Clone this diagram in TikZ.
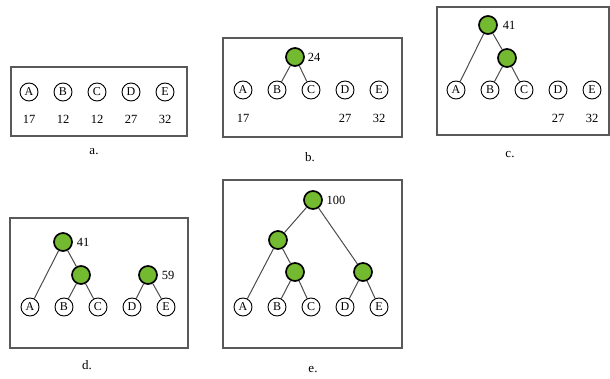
\documentclass[tikz,border=0pt]{standalone}
\usepackage{fontspec}
\setmainfont{Liberation Serif}
\usepackage{tikz}
\usetikzlibrary{positioning}
\usepackage{xcolor}
\definecolor{mergegreen}{RGB}{116,186,48}

\begin{document}
\begin{tikzpicture}[x=1pt, y=-1pt, node distance=34pt]
    % Define styles
    \tikzstyle{panel} = [draw=black!65, line width=1.5pt]
    \tikzstyle{leaf} = [circle, draw, line width=0.9pt, inner sep=0pt, minimum size=18pt, font=\fontsize{12}{13}\selectfont]
    \tikzstyle{merge} = [circle, draw, line width=1.7pt, fill=mergegreen, inner sep=0pt, minimum size=18pt]
    \tikzstyle{weight} = [inner sep=0pt, font=\fontsize{12.5}{13}\selectfont]
    \tikzstyle{line} = [draw=black!70, line width=1pt]
    \tikzstyle{caption} = [font=\fontsize{13}{14}\selectfont]

    \useasboundingbox (0,0) rectangle (610,379);

    % a. five single trees
    \draw [panel] (11,67) rectangle (187,136);
    \node [leaf] (aA) at (29,92) {A};
    \node [leaf, right of=aA] (aB) {B};
    \node [leaf, right of=aB] (aC) {C};
    \node [leaf, right of=aC] (aD) {D};
    \node [leaf, right of=aD] (aE) {E};
    \node [weight, below of=aA, node distance=27pt] (aA-w) {17};
    \node [weight, below of=aB, node distance=27pt] (aB-w) {12};
    \node [weight, below of=aC, node distance=27pt] (aC-w) {12};
    \node [weight, below of=aD, node distance=27pt] (aD-w) {27};
    \node [weight, below of=aE, node distance=27pt] (aE-w) {32};
    \node [caption] (a-cap) at (94,152) {a.};

    % b. B and C merged
    \draw [panel] (223,38) rectangle (402,137);
    \node [leaf] (bA) at (243,90) {A};
    \node [leaf, right of=bA] (bB) {B};
    \node [leaf, right of=bB] (bC) {C};
    \node [leaf, right of=bC] (bD) {D};
    \node [leaf, right of=bD] (bE) {E};
    \node [merge] (bBC) at (295,57) {};
    \node [weight, right of=bBC, node distance=19pt] (bBC-w) {24};
    \node [weight, below of=bA, node distance=28pt] (bA-w) {17};
    \node [weight, below of=bD, node distance=28pt] (bD-w) {27};
    \node [weight, below of=bE, node distance=28pt] (bE-w) {32};
    \path [line] (bBC) -- (bB);
    \path [line] (bBC) -- (bC);
    \node [caption] (b-cap) at (310,157) {b.};

    % c. A joins BC
    \draw [panel] (437,7) rectangle (609,135);
    \node [leaf] (cA) at (456,90) {A};
    \node [leaf, right of=cA] (cB) {B};
    \node [leaf, right of=cB] (cC) {C};
    \node [leaf, right of=cC] (cD) {D};
    \node [leaf, right of=cD] (cE) {E};
    \node [merge] (cBC) at (507,58) {};
    \node [merge] (cABC) at (488,25) {};
    \node [weight, right of=cABC, node distance=21pt] (cABC-w) {41};
    \node [weight, below of=cD, node distance=28pt] (cD-w) {27};
    \node [weight, below of=cE, node distance=28pt] (cE-w) {32};
    \path [line] (cABC) -- (cA);
    \path [line] (cABC) -- (cBC);
    \path [line] (cBC) -- (cB);
    \path [line] (cBC) -- (cC);
    \node [caption] (c-cap) at (510,155) {c.};

    % d. D and E merged
    \draw [panel] (10,218) rectangle (188,348);
    \node [leaf] (dA) at (30,307) {A};
    \node [leaf, right of=dA] (dB) {B};
    \node [leaf, right of=dB] (dC) {C};
    \node [leaf, right of=dC] (dD) {D};
    \node [leaf, right of=dD] (dE) {E};
    \node [merge] (dBC) at (81,275) {};
    \node [merge] (dABC) at (63,242) {};
    \node [merge] (dDE) at (148,275) {};
    \node [weight, right of=dABC, node distance=20pt] (dABC-w) {41};
    \node [weight, right of=dDE, node distance=20pt] (dDE-w) {59};
    \path [line] (dABC) -- (dA);
    \path [line] (dABC) -- (dBC);
    \path [line] (dBC) -- (dB);
    \path [line] (dBC) -- (dC);
    \path [line] (dDE) -- (dD);
    \path [line] (dDE) -- (dE);
    \node [caption] (d-cap) at (87,365) {d.};

    % e. the finished tree
    \draw [panel] (223,180) rectangle (402,348);
    \node [leaf] (eA) at (243,307) {A};
    \node [leaf, right of=eA] (eB) {B};
    \node [leaf, right of=eB] (eC) {C};
    \node [leaf, right of=eC] (eD) {D};
    \node [leaf, right of=eD] (eE) {E};
    \node [merge] (eBC) at (295,272) {};
    \node [merge] (eABC) at (278,240) {};
    \node [merge] (eDE) at (363,272) {};
    \node [merge] (eroot) at (313,200) {};
    \node [weight, right of=eroot, node distance=23pt] (eroot-w) {100};
    \path [line] (eroot) -- (eABC);
    \path [line] (eroot) -- (eDE);
    \path [line] (eABC) -- (eA);
    \path [line] (eABC) -- (eBC);
    \path [line] (eBC) -- (eB);
    \path [line] (eBC) -- (eC);
    \path [line] (eDE) -- (eD);
    \path [line] (eDE) -- (eE);
    \node [caption] (e-cap) at (313,370) {e.};
\end{tikzpicture}
\end{document}
